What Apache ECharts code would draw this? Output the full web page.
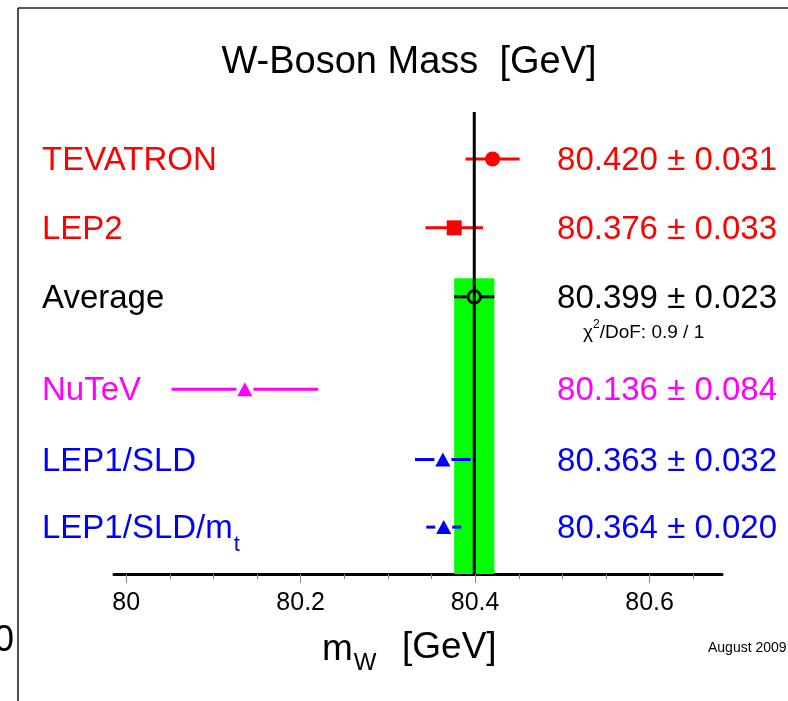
<!DOCTYPE html>
<html>
<head>
<meta charset="utf-8">
<script src="https://cdn.jsdelivr.net/npm/echarts@6/dist/echarts.min.js"></script>
<style>
  html, body { margin: 0; padding: 0; background: #fff; }
  #chart { width: 788px; height: 701px; }
</style>
</head>
<body>
<div id="chart"></div>
<script>
// W-boson mass measurements (GeV)
const names   = ['TEVATRON', 'LEP2', 'Average', 'NuTeV', 'LEP1/SLD', 'LEP1/SLD/m_t'];
const values  = [80.420, 80.376, 80.399, 80.136, 80.363, 80.364];
const errors  = [0.031, 0.033, 0.023, 0.084, 0.032, 0.020];
const colors  = ['#ff0000', '#ff0000', '#000000', '#ff00ff', '#0000ff', '#0000ff'];
const markers = ['circle', 'square', 'openCircle', 'triangle', 'triangle', 'triangle'];
const averageValue = 80.399;
const averageError = 0.023;
const chi2Text = '/DoF: 0.9 / 1';

// axis ticks
const tickLabels = [80, 80.2, 80.4, 80.6];
const minorTicks = [80.05, 80.1, 80.15, 80.25, 80.3, 80.35, 80.45, 80.5, 80.55, 80.65];

// vertical layout of the rows (in row units of the hidden y axis)
const rowPos = [6.02, 5.02, 4.02, 2.68, 1.66, 0.68];
const yMax = 6.7;
const bandTop = 4.29;

const FONT = '"Liberation Sans", Arial, Helvetica, sans-serif';
const measureCtx = document.createElement('canvas').getContext('2d');
function textWidth(str, size) {
  measureCtx.font = size + 'px ' + FONT;
  return measureCtx.measureText(str).width;
}
function txt(x, y, text, size, color, align) {
  return {
    type: 'text', x: x, y: y, z2: 10,
    style: { text: text, fill: color, fontSize: size, fontFamily: FONT,
             align: align || 'left', verticalAlign: 'middle' }
  };
}

const chart = echarts.init(document.getElementById('chart'), null, { renderer: 'canvas' });

const rowData = values.map((v, i) => [v, errors[i], rowPos[i]]);

// gap left between the error bar and the marker, per marker kind
const markerGap = { circle: 0, square: 0, openCircle: 7, triangle: 8.5 };

function renderRow(params, api) {
  const i = params.dataIndex;
  const v = api.value(0), e = api.value(1), pos = api.value(2);
  const c = api.coord([v, pos]);
  const lo = api.coord([v - e, pos]);
  const hi = api.coord([v + e, pos]);
  const color = colors[i];
  const cx = c[0], cy = c[1];
  const m = markers[i];
  const half = markerGap[m];
  const kids = [];
  const lineStyle = { stroke: color, lineWidth: 3 };
  if (half === 0) {
    kids.push({ type: 'line', shape: { x1: lo[0], y1: cy, x2: hi[0], y2: cy }, style: lineStyle });
  } else {
    if (lo[0] < cx - half) kids.push({ type: 'line', shape: { x1: lo[0], y1: cy, x2: cx - half, y2: cy }, style: lineStyle });
    if (hi[0] > cx + half) kids.push({ type: 'line', shape: { x1: cx + half, y1: cy, x2: hi[0], y2: cy }, style: lineStyle });
  }

  if (m === 'circle') {
    kids.push({ type: 'circle', shape: { cx: cx, cy: cy, r: 7.5 }, style: { fill: color } });
  } else if (m === 'square') {
    kids.push({ type: 'rect', shape: { x: cx - 7.5, y: cy - 7.5, width: 15, height: 15 }, style: { fill: color } });
  } else if (m === 'openCircle') {
    kids.push({ type: 'circle', shape: { cx: cx, cy: cy, r: 6.2 }, style: { fill: 'none', stroke: color, lineWidth: 2.8 } });
  } else {
    kids.push({ type: 'polygon', shape: { points: [[cx, cy - 7], [cx + 7.6, cy + 7], [cx - 7.6, cy + 7]] }, style: { fill: color } });
  }

  // name on the left (with optional subscript after '_')
  const ty = cy + 2;
  const parts = names[i].split('_');
  kids.push(txt(42, ty, parts[0], 33, color));
  if (parts[1]) {
    const w = textWidth(parts[0], 33);
    kids.push(txt(42 + w + 1, ty + 16, parts[1], 22, color));
  }
  // value +- error on the right
  const label = values[i].toFixed(3) + ' \u00b1 ' + errors[i].toFixed(3);
  kids.push(txt(777, ty, label, 33, color, 'right'));

  // fit quality under the average
  if (m === 'openCircle') {
    const x0 = 583, y0 = cy + 36;
    kids.push(txt(x0, y0, '\u03c7', 19, '#000'));
    const wc = textWidth('\u03c7', 19);
    kids.push(txt(x0 + wc, y0 - 8, '2', 12, '#000'));
    const w2 = textWidth('2', 12);
    kids.push(txt(x0 + wc + w2, y0, chi2Text, 19, '#000'));
  }
  return { type: 'group', children: kids };
}

function renderBand(params, api) {
  const a = api.coord([api.value(0) - api.value(1), 0]);
  const b = api.coord([api.value(0) + api.value(1), bandTop]);
  return { type: 'rect', shape: { x: a[0], y: b[1], width: b[0] - a[0], height: a[1] - b[1] }, style: { fill: '#00ff00' } };
}

function renderAverageLine(params, api) {
  const a = api.coord([api.value(0), 0]);
  const b = api.coord([api.value(0), yMax]);
  return { type: 'line', shape: { x1: a[0], y1: a[1], x2: b[0], y2: b[1] }, style: { stroke: '#000', lineWidth: 3 } };
}

// axis title pieces
const mx = 322, my = 650;
const wm = textWidth('m', 37);

const option = {
  animation: false,
  backgroundColor: '#ffffff',
  grid: { left: 114, right: 66, top: 112, bottom: 127 },
  xAxis: [
    {
      type: 'value', min: 79.986, max: 80.683, position: 'bottom',
      axisLine: { show: true, lineStyle: { color: '#000', width: 3 } },
      axisTick: { show: true, inside: false, customValues: tickLabels, length: 9, lineStyle: { color: '#888', width: 1 } },
      axisLabel: { customValues: tickLabels, fontSize: 25, color: '#000', fontFamily: FONT, margin: 17 },
      splitLine: { show: false }
    },
    {
      type: 'value', min: 79.986, max: 80.683, position: 'bottom',
      axisLine: { show: false },
      axisTick: { show: true, inside: false, customValues: minorTicks, length: 5, lineStyle: { color: '#888', width: 1 } },
      axisLabel: { show: false },
      splitLine: { show: false }
    }
  ],
  yAxis: { type: 'value', min: 0, max: yMax, show: false },
  series: [
    { type: 'custom', z: 1, data: [[averageValue, averageError]], renderItem: renderBand, silent: true },
    { type: 'custom', z: 2, data: rowData, renderItem: renderRow, silent: true, clip: false },
    { type: 'custom', z: 3, data: [[averageValue]], renderItem: renderAverageLine, silent: true }
  ],
  graphic: [
    // frame
    { type: 'line', shape: { x1: 18, y1: 8, x2: 788, y2: 8 }, style: { stroke: '#222', lineWidth: 1.6 } },
    { type: 'line', shape: { x1: 18, y1: 8, x2: 18, y2: 701 }, style: { stroke: '#222', lineWidth: 1.6 } },
    { type: 'text', x: 14, y: 641, style: { text: '0', fontSize: 36, fontFamily: FONT, fill: '#000', align: 'right', verticalAlign: 'middle' } },
    // title
    { type: 'text', x: 409, y: 63, style: { text: 'W-Boson Mass  [GeV]', fontSize: 38, fontFamily: FONT, fill: '#000', align: 'center', verticalAlign: 'middle' } },
    // x axis title
    { type: 'text', x: mx, y: my, style: { text: 'm', fontSize: 37, fontFamily: FONT, fill: '#000', verticalAlign: 'middle' } },
    { type: 'text', x: mx + wm + 1, y: my + 13, style: { text: 'W', fontSize: 24, fontFamily: FONT, fill: '#000', verticalAlign: 'middle' } },
    { type: 'text', x: 402, y: my - 2, style: { text: '[GeV]', fontSize: 37, fontFamily: FONT, fill: '#000', verticalAlign: 'middle' } },
    // date stamp
    { type: 'text', x: 708, y: 648, style: { text: 'August 2009', fontSize: 14, fontFamily: FONT, fill: '#000', verticalAlign: 'middle' } }
  ]
};
chart.setOption(option);
</script>
</body>
</html>
